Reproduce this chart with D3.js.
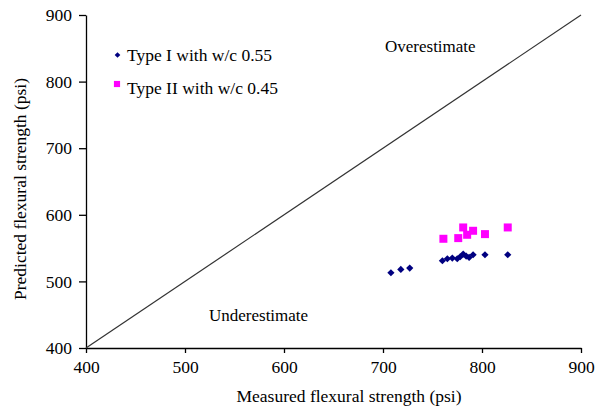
<!DOCTYPE html>
<meta charset="utf-8">

<head>
  <title>Flexural strength</title>
  <style>
    body { margin: 0; background: #fff; }
    svg text { font-family: "Liberation Serif", "Times New Roman", serif; fill: #000; }
  </style>
  <script src="https://d3js.org/d3.v7.min.js"></script>
</head>

<body>
  <div id="content"></div>

  <script>
    // Measured vs predicted flexural strength (psi)
    var typeIMeasured = [708, 718, 727, 760, 765, 770, 775, 778, 781, 784, 787, 791, 803, 826];
    var typeIPredicted = [513, 518, 520, 531, 534, 535, 534, 537, 541, 538, 536, 540, 540, 540];
    var typeIIMeasured = [761, 776, 781, 785, 791, 803, 826];
    var typeIIPredicted = [564, 565, 581, 570, 576, 571, 581];
    var tickValues = [400, 500, 600, 700, 800, 900];
    var seriesNames = ['Type I with w/c 0.55', 'Type II with w/c 0.45'];

    var width = 595, height = 410;
    var fs = 17.5;

    var svg = d3.select('#content').append('svg')
      .attr('width', width)
      .attr('height', height);

    var x = d3.scaleLinear().domain([400, 900]).range([86, 581]);
    var y = d3.scaleLinear().domain([400, 900]).range([348, 15]);

    // axes
    var xAxis = svg.append('g')
      .attr('transform', 'translate(0,' + y(400) + ')')
      .call(d3.axisBottom(x).tickValues(tickValues).tickSize(5).tickSizeOuter(0).tickPadding(8));
    var yAxis = svg.append('g')
      .attr('transform', 'translate(' + x(400) + ',0)')
      .call(d3.axisLeft(y).tickValues(tickValues).tickSize(7).tickSizeOuter(0).tickPadding(7));

    [xAxis, yAxis].forEach(function (g) {
      g.selectAll('path, line').attr('stroke', '#000').attr('stroke-width', 1.3);
      g.selectAll('text').attr('font-size', fs).attr('font-family', '"Liberation Serif", serif');
    });

    // 1:1 line
    svg.append('line')
      .attr('x1', x(400)).attr('y1', y(400))
      .attr('x2', x(900)).attr('y2', y(900))
      .attr('stroke', '#333')
      .attr('stroke-width', 1.2);

    // points
    var diamond = d3.symbol().type(d3.symbolSquare).size(26);
    var square = d3.symbol().type(d3.symbolSquare).size(64);

    svg.append('g').selectAll('path')
      .data(typeIMeasured)
      .enter().append('path')
      .attr('d', diamond)
      .attr('fill', '#000080')
      .attr('transform', function (d, i) {
        return 'translate(' + x(d) + ',' + y(typeIPredicted[i]) + ') rotate(45)';
      });

    svg.append('g').selectAll('path')
      .data(typeIIMeasured)
      .enter().append('path')
      .attr('d', square)
      .attr('fill', '#ff00ff')
      .attr('transform', function (d, i) {
        return 'translate(' + x(d) + ',' + y(typeIIPredicted[i]) + ')';
      });

    // legend
    var legend = svg.append('g');
    legend.append('path')
      .attr('d', d3.symbol().type(d3.symbolSquare).size(16))
      .attr('fill', '#000080')
      .attr('transform', 'translate(117.5,55) rotate(45)');
    legend.append('text')
      .attr('x', 127).attr('y', 61)
      .attr('font-size', fs)
      .text(seriesNames[0]);
    legend.append('path')
      .attr('d', d3.symbol().type(d3.symbolSquare).size(38))
      .attr('fill', '#ff00ff')
      .attr('transform', 'translate(117,84)');
    legend.append('text')
      .attr('x', 127).attr('y', 94)
      .attr('font-size', fs)
      .text(seriesNames[1]);

    // annotations
    svg.append('text')
      .attr('x', 385).attr('y', 52)
      .attr('font-size', 17)
      .text('Overestimate');
    svg.append('text')
      .attr('x', 209).attr('y', 321)
      .attr('font-size', 17)
      .text('Underestimate');

    // axis titles
    svg.append('text')
      .attr('x', 349).attr('y', 402)
      .attr('text-anchor', 'middle')
      .attr('font-size', fs)
      .text('Measured flexural strength (psi)');
    svg.append('text')
      .attr('transform', 'translate(26,' + 189 + ') rotate(-90)')
      .attr('text-anchor', 'middle')
      .attr('font-size', fs)
      .text('Predicted flexural strength (psi)');
  </script>
</body>

</html>
